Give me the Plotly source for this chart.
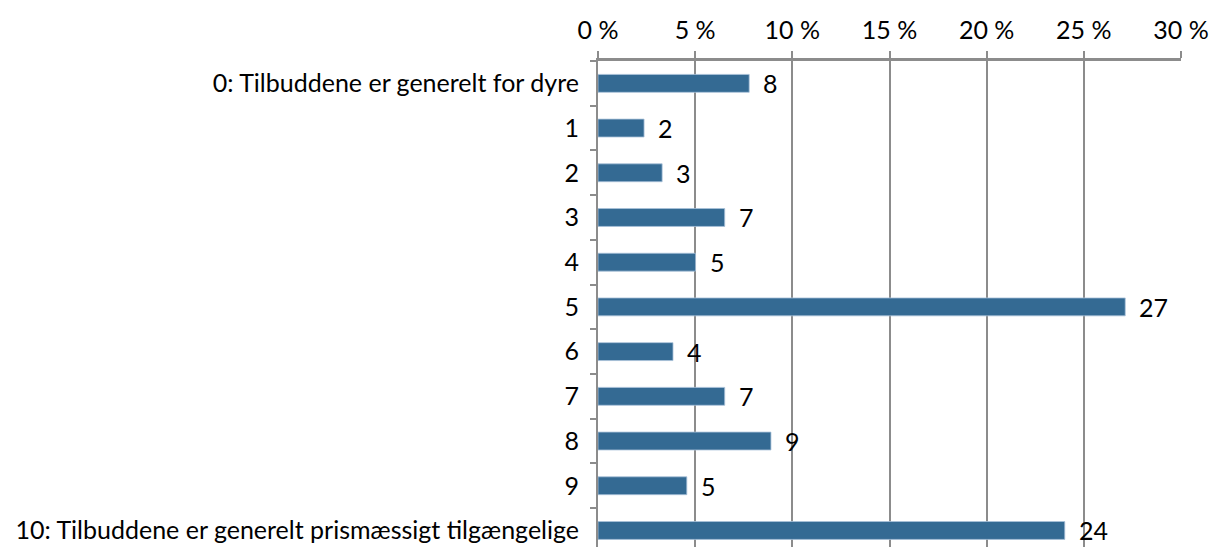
import plotly.graph_objects as go

# Survey answer scale (0 = too expensive, 10 = affordable) and share of answers in percent
categories = [
    "0: Tilbuddene er generelt for dyre",
    "1", "2", "3", "4", "5", "6", "7", "8", "9",
    "10: Tilbuddene er generelt prismæssigt tilgængelige",
]
shares = [7.78, 2.37, 3.30, 6.52, 5.02, 27.13, 3.86, 6.52, 8.90, 4.57, 24.02]
x_ticks = [0, 5, 10, 15, 20, 25, 30]
x_tick_labels = ["0 %", "5 %", "10 %", "15 %", "20 %", "25 %", "30 %"]

FONT = "Lato"
FONT_SIZE = 25
BAR_COLOR = "#346a93"
GRID_COLOR = "#8c8c8c"

fig = go.Figure(
    go.Bar(
        x=shares,
        y=categories,
        orientation="h",
        width=0.4,
        marker=dict(color=BAR_COLOR, line=dict(color="#a9c1d9", width=0.8)),
        hoverinfo="skip",
    )
)

# value labels, rounded to whole percent, placed just right of each bar end
for cat, val in zip(categories, shares):
    fig.add_annotation(
        x=val, y=cat, text=f"{val:.0f}", showarrow=False,
        xanchor="left", yanchor="middle", xshift=12,
        font=dict(family=FONT, size=FONT_SIZE, color="black"),
    )

fig.update_layout(
    width=1211,
    height=547,
    margin=dict(l=598, r=30, t=61, b=0),
    paper_bgcolor="white",
    plot_bgcolor="white",
    showlegend=False,
    font=dict(family=FONT, size=FONT_SIZE, color="black"),
    xaxis=dict(
        side="top",
        range=[0, 30],
        tickvals=x_ticks,
        ticktext=x_tick_labels,
        showgrid=True,
        gridcolor=GRID_COLOR,
        gridwidth=1.5,
        zeroline=False,
        showline=True,
        linecolor=GRID_COLOR,
        linewidth=2.5,
        ticks="outside",
        ticklen=7,
        tickwidth=1.5,
        tickcolor=GRID_COLOR,
        ticklabelstandoff=2,
        fixedrange=True,
    ),
    yaxis=dict(
        type="category",
        range=[10.37, -0.5],
        tickson="boundaries",
        ticks="outside",
        ticklen=6,
        tickwidth=1.5,
        tickcolor=GRID_COLOR,
        showgrid=False,
        showline=True,
        linecolor=GRID_COLOR,
        linewidth=2,
        ticklabelstandoff=12,
        fixedrange=True,
    ),
)

fig.write_html("out.html")
